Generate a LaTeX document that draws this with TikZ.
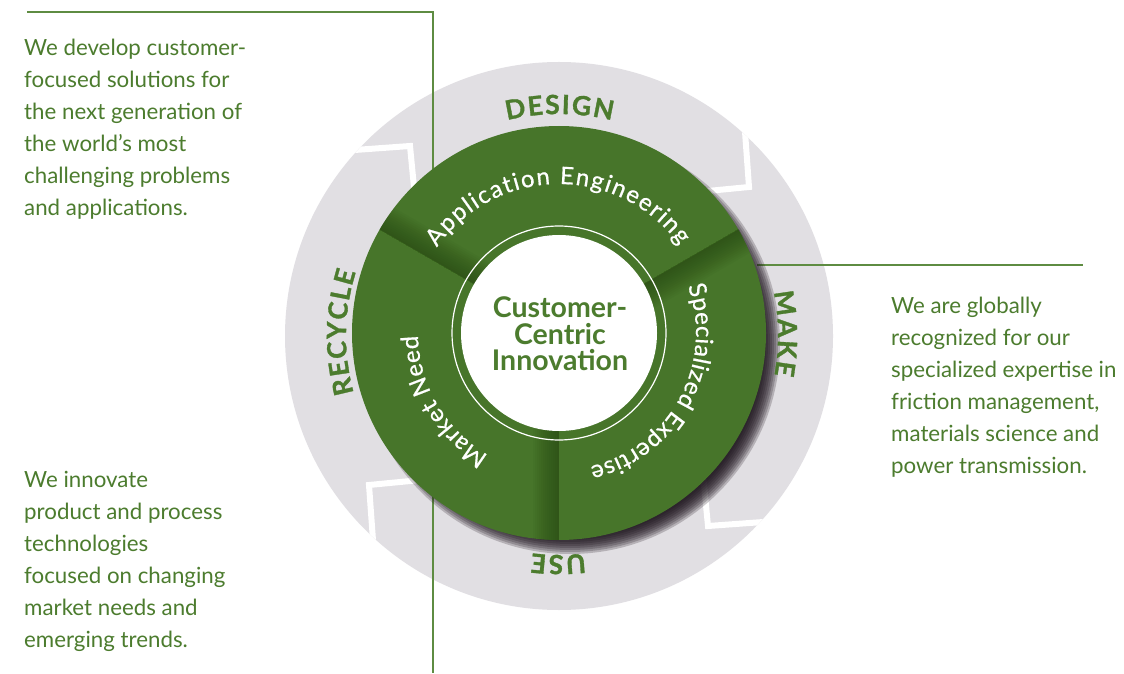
\documentclass[tikz,border=0pt]{standalone}
\usepackage{fontspec}
\setmainfont{Lato}
\usetikzlibrary{decorations.text,calc}
\definecolor{dgreen}{HTML}{47752A}
\definecolor{tgreen}{HTML}{4C7C2E}
\definecolor{lgreen}{HTML}{5E8C42}
\definecolor{ringgrey}{HTML}{E1DFE3}
\definecolor{shadowcol}{HTML}{1A101A}
\definecolor{divshade}{HTML}{22400F}
\newcommand\labIn{\fontsize{24}{24}\selectfont\addfontfeature{FakeBold=0.6}}
\newcommand\labOut{\bfseries\fontsize{26.5}{26.5}\selectfont\addfontfeature{FakeBold=1.2}}
\begin{document}
\begin{tikzpicture}[x=1pt,y=1pt,
  sidetext/.style={text=tgreen, align=left, inner sep=0pt, anchor=north west,
    font=\fontsize{22.3}{32}\selectfont},
  centertext/.style={text=tgreen, align=center, inner sep=0pt,
    font=\bfseries\fontsize{28.5}{26.5}\selectfont},
  gline/.style={draw=lgreen, line width=1.3pt},
  chev/.style={draw=white, line width=6pt, miter limit=10, line join=miter},
  inlabel/.style={decorate, decoration={text along path, text align=fit to path,
    text color=white}},
  outlabel/.style={decorate, decoration={text along path, text align=fit to path,
    text color=tgreen}}]
\useasboundingbox (0,0) rectangle (1124,673);
\fill[white] (0,0) rectangle (1124,673);
\coordinate (G) at (559,337);
\coordinate (D) at (559,340);
% grey ring
\fill[ringgrey] (G) circle (274);
\begin{scope}
  \clip (G) circle (274);
  \foreach \k in {0,1,2,3}{
    \begin{scope}[shift={(G)}, rotate=-90*\k]
      \draw[chev] (-232,184) -- (-149,190) -- (-143,128);
    \end{scope}
  }
\end{scope}
% thin green lines
\coordinate (l1a) at (27,661);
\coordinate (l1b) at (433,661);
\coordinate (l1c) at (433,0);
\coordinate (l2a) at (757,408);
\coordinate (l2b) at (1083,408);
\draw[gline] (l1a) -- (l1b) -- (l1c);
\draw[gline] (l2a) -- (l2b);
% drop shadow of the disc
\foreach \i in {0,...,9}{
  \fill[shadowcol, opacity=0.22] ($(D)+(11,-11)$) circle ({192+2*\i});
}
% green disc
\fill[dgreen] (D) circle (207);
% divider shading
\begin{scope}
  \clip (D) circle (207);
  \foreach \a in {150,30,270}{
    \begin{scope}[shift={(D)}, rotate=\a]
      \foreach \w in {2,4,...,26}{
        \fill[divshade, opacity=0.055] (0,0) rectangle (210,-\w);
      }
    \end{scope}
  }
\end{scope}
% inner circles
\draw[white, line width=1.2pt] (D) circle (107);
\fill[white] (D) circle (98);
% curved labels in the green ring
\path[inlabel, decoration={text={|\labIn|Application Engineering}}]
  ($(D)+(145:149)$) arc[start angle=145, end angle=36, radius=149];
\path[inlabel, decoration={text={|\labIn|Specialized Expertise}}]
  ($(D)+(20:137)$) arc[start angle=20, end angle=-77, radius=137];
\path[inlabel, decoration={text={|\labIn|Market Need}}]
  ($(D)+(240:141)$) arc[start angle=240, end angle=181, radius=141];
% curved labels on the grey ring
\path[outlabel, decoration={text={|\labOut|DESIGN}}]
  ($(G)+(103.5:222)$) arc[start angle=103.5, end angle=76.2, radius=222];
\path[outlabel, decoration={text={|\labOut|MAKE}}]
  ($(G)+(11.6:219)$) arc[start angle=11.6, end angle=-10.3, radius=219];
\path[outlabel, decoration={text={|\labOut|USE}}]
  ($(G)+(-83.2:219)$) arc[start angle=-83.2, end angle=-97.1, radius=219];
\path[outlabel, decoration={text={|\labOut|RECYCLE}}]
  ($(G)+(195.5:213)$) arc[start angle=195.5, end angle=162.5, radius=213];
% centre text
\node[centertext] (cci) at ($(D)+(1,-1)$) {Customer-\\Centric\\Innovation};
% side texts
\node[sidetext] (design) at (24,634) {We develop customer-\\focused solutions for\\the next generation of\\the world’s most\\challenging problems\\and applications.};
\node[sidetext] (recycle) at (24,202) {We innovate\\product and process\\technologies\\focused on changing\\market needs and\\emerging trends.};
\node[sidetext] (make) at (891,376) {We are globally\\recognized for our\\specialized expertise in\\friction management,\\materials science and\\power transmission.};
\end{tikzpicture}
\end{document}
